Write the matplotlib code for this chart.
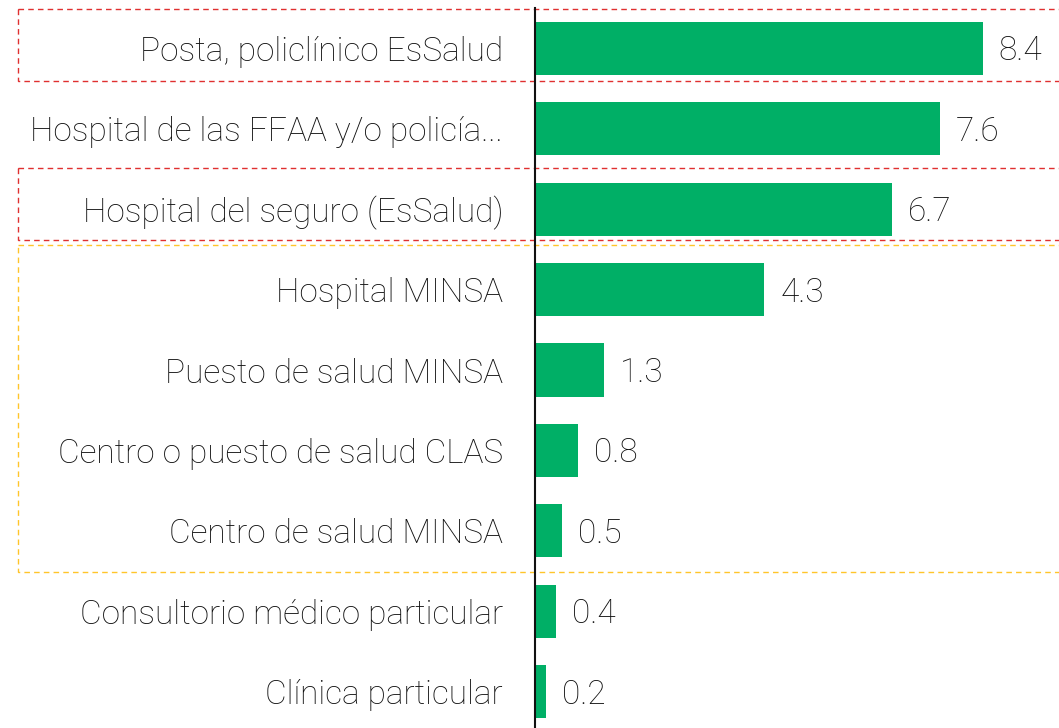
import matplotlib
matplotlib.use("Agg")
import matplotlib.pyplot as plt
from matplotlib.patches import Rectangle
import matplotlib.transforms as mtransforms

categories = [
    "Posta, policlínico EsSalud",
    "Hospital de las FFAA y/o policía...",
    "Hospital del seguro (EsSalud)",
    "Hospital MINSA",
    "Puesto de salud MINSA",
    "Centro o puesto de salud CLAS",
    "Centro de salud MINSA",
    "Consultorio médico particular",
    "Clínica particular",
]
values = [8.4, 7.6, 6.7, 4.3, 1.3, 0.8, 0.5, 0.4, 0.2]
value_labels = ["8.4", "7.6", "6.7", "4.3", "1.3", "0.8", "0.5", "0.4", "0.2"]

FONT = ["Roboto", "DejaVu Sans"]
plt.rcParams['font.family'] = FONT

fig = plt.figure(figsize=(10.59, 7.28), dpi=100)
ax = fig.add_axes([535/1059, 0, 524/1059, 720/728])

ypos = list(range(len(categories)))
ax.barh(ypos, values, height=0.66, color="#00AF66")
ax.set_xlim(0, 9.83)
ax.set_ylim(8.45, -0.5)

for y, v, lab in zip(ypos, values, value_labels):
    ax.annotate(lab, (v, y), xytext=(16, -3), textcoords="offset pixels",
                ha="left", va="center", fontsize=24, color="#111111",
                fontweight="light")

ax.set_yticks(ypos)
ax.set_yticklabels(categories, fontsize=24, color="#111111", fontweight="light")
ax.tick_params(axis="y", length=0, pad=23)
ax.set_xticks([])
for s in ["top", "right", "bottom"]:
    ax.spines[s].set_visible(False)
ax.spines["left"].set_linewidth(1.5)
ax.spines["left"].set_color("#111111")

trans = mtransforms.blended_transform_factory(ax.transAxes, ax.transData)
left = -517/524
boxes = [(-0.49, 0.41, "#E03030"), (1.49, 2.39, "#E03030"), (2.44, 6.51, "#FFC52A")]
for y0, y1, col in boxes:
    r = Rectangle((left, y0), 1.02 - left, y1 - y0, transform=trans, fill=False,
                  edgecolor=col, linestyle=(0, (4, 3)), linewidth=1.0, clip_on=False)
    ax.add_patch(r)

fig.savefig("out.png", dpi=100)
